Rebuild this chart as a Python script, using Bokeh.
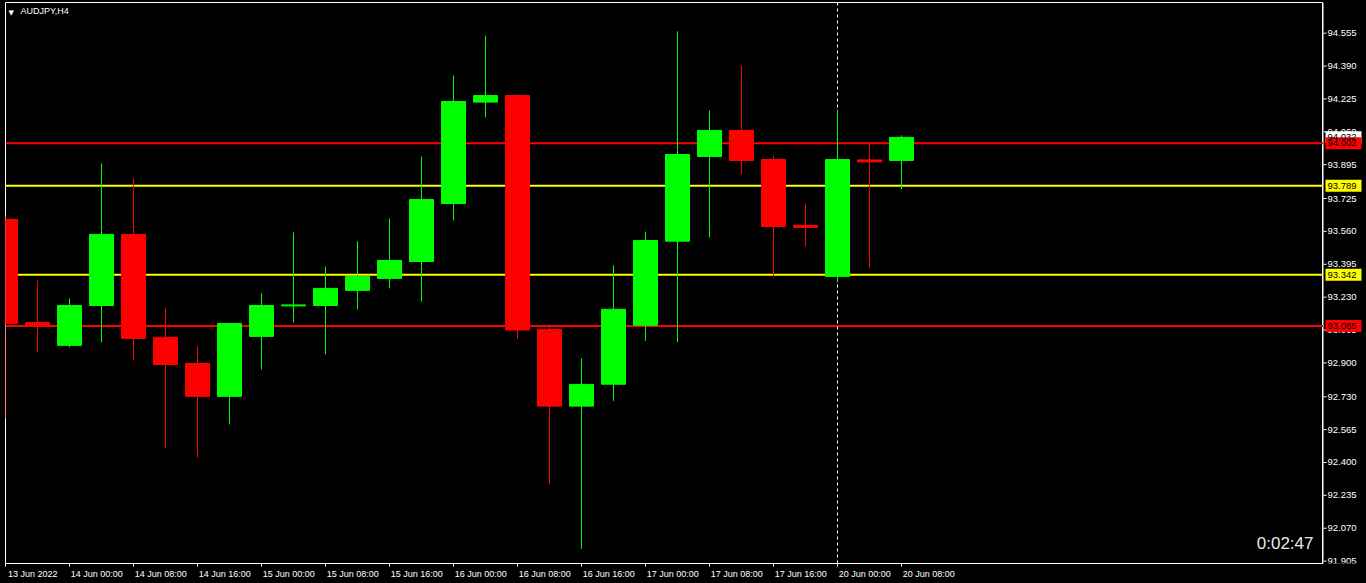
from bokeh.plotting import figure
from bokeh.layouts import row
from bokeh.models import (ColumnDataSource, Range1d, LinearAxis, FixedTicker,
                          Span, Label, GlobalInlineStyleSheet)
from bokeh.core.properties import value
from bokeh.embed import file_html
from bokeh.resources import INLINE

# ---------------- data ----------------
SYMBOL = "AUDJPY,H4"
TIMER = "0:02:47"

OPEN = [93.620, 93.103, 92.988, 93.188, 93.545, 93.028, 92.897, 92.732, 93.033, 93.186,
        93.188, 93.264, 93.324, 93.409, 93.700, 94.209, 94.242, 93.068, 92.683, 92.793,
        93.089, 93.511, 93.936, 94.067, 93.921, 93.590, 93.334, 93.919, 93.916]
HIGH = [93.640, 93.314, 93.224, 93.901, 93.826, 93.173, 92.983, 93.098, 93.249, 93.555,
        93.384, 93.510, 93.625, 93.936, 94.343, 94.542, 94.247, 93.079, 92.923, 93.390,
        93.559, 94.564, 94.167, 94.393, 93.941, 93.700, 94.172, 94.001, 94.042]
LOW = [92.621, 92.953, 92.978, 93.003, 92.912, 92.471, 92.426, 92.591, 92.867, 93.103,
       92.943, 93.168, 93.274, 93.208, 93.615, 94.133, 93.020, 92.292, 91.966, 92.709,
       93.010, 93.004, 93.530, 93.846, 93.334, 93.485, 93.304, 93.379, 93.771]
CLOSE = [93.098, 93.088, 93.188, 93.545, 93.023, 92.892, 92.732, 93.098, 93.188, 93.191,
         93.274, 93.334, 93.414, 93.720, 94.212, 94.242, 93.065, 92.683, 92.792, 93.169,
         93.514, 93.946, 94.067, 93.916, 93.585, 93.580, 93.921, 93.909, 94.032]
BAR = list(range(len(OPEN)))

X_TICK_BARS = [0, 2, 4, 6, 8, 10, 12, 14, 16, 18, 20, 22, 24, 26, 28]
X_TICK_LABELS = ["13 Jun 2022", "14 Jun 00:00", "14 Jun 08:00", "14 Jun 16:00",
                 "15 Jun 00:00", "15 Jun 08:00", "15 Jun 16:00", "16 Jun 00:00",
                 "16 Jun 08:00", "16 Jun 16:00", "17 Jun 00:00", "17 Jun 08:00",
                 "17 Jun 16:00", "20 Jun 00:00", "20 Jun 08:00"]
Y_TICKS = [94.555, 94.390, 94.225, 94.060, 93.895, 93.725, 93.560, 93.395, 93.230,
           93.065, 92.900, 92.730, 92.565, 92.400, 92.235, 92.070, 91.905]

RED_LEVELS = [94.002, 93.085]
YELLOW_LEVELS = [93.789, 93.342]
SEPARATOR_LABEL = "20 Jun 00:00"
BID = CLOSE[-1]

# ---------------- style ----------------
BULL = "#00ff00"
BEAR = "#ff0000"
YELLOW = "#ffff00"
FONT = "Liberation Sans"
BAR_PX = 32
MAIN_W, AXIS_W, H = 1323, 43, 583
LEFT_B, TOP_B, BOTTOM_B = 5, 2, 20
FRAME_W = MAIN_W - LEFT_B
X_START = 0.0
X_END = X_START + FRAME_W / BAR_PX
Y_START, Y_END = 91.893, 94.709
BODY_W = 0.75
LABEL_SHIFT = 0.85

yr = Range1d(Y_START, Y_END)

colors = [BULL if c >= o else BEAR for o, c in zip(OPEN, CLOSE)]
src = ColumnDataSource(dict(
    x=BAR, open=OPEN, high=HIGH, low=LOW, close=CLOSE,
    top=[max(o, c) for o, c in zip(OPEN, CLOSE)],
    bottom=[min(o, c) for o, c in zip(OPEN, CLOSE)],
    color=colors,
))

# ---------------- main chart ----------------
p = figure(width=MAIN_W, height=H, output_backend="svg", toolbar_location=None,
           x_range=Range1d(X_START, X_END), y_range=yr,
           x_axis_location=None, y_axis_location=None,
           min_border_left=LEFT_B, min_border_top=TOP_B, min_border_right=0,
           min_border_bottom=BOTTOM_B)
p.background_fill_color = "black"
p.border_fill_color = "black"
p.outline_line_color = "white"
p.outline_line_width = 1
for g in p.grid:
    g.visible = False
p.stylesheets = [GlobalInlineStyleSheet(css="body{background:#000000;}")]

label_pos = [b + LABEL_SHIFT for b in X_TICK_BARS]
xaxis = LinearAxis(
    ticker=FixedTicker(ticks=label_pos, minor_ticks=X_TICK_BARS),
    major_label_overrides={lp: lab for lp, lab in zip(label_pos, X_TICK_LABELS)},
    major_tick_out=0, major_tick_in=0, minor_tick_out=3, minor_tick_in=0,
    minor_tick_line_color="white", axis_line_color="white",
    major_label_standoff=2, major_label_text_color="white",
    major_label_text_font=FONT, major_label_text_font_size="9px")
p.add_layout(xaxis, "below")

for lvl in RED_LEVELS:
    p.add_layout(Span(location=lvl, dimension="width", line_color=BEAR,
                      line_width=2, level="underlay"))
for lvl in YELLOW_LEVELS:
    p.add_layout(Span(location=lvl, dimension="width", line_color=YELLOW,
                      line_width=2, level="underlay"))
sep_bar = X_TICK_BARS[X_TICK_LABELS.index(SEPARATOR_LABEL)]
p.add_layout(Span(location=sep_bar, dimension="height", line_color="white",
                  line_width=1, line_dash="3 3", level="underlay"))

p.segment(x0="x", y0="low", x1="x", y1="high", line_color="color",
          line_width=1, source=src)
p.vbar(x="x", top="top", bottom="bottom", width=BODY_W, fill_color="color",
       line_color="color", line_width=1, source=src)

p.add_layout(Label(x=3, x_units="screen", y=Y_END, y_units="data", y_offset=-6,
                   text="\u25bc", text_font="DejaVu Sans",
                   text_font_size="7px", text_color="white",
                   text_baseline="top", text_align="left"))
p.add_layout(Label(x=15, x_units="screen", y=Y_END, y_units="data", y_offset=-3,
                   text=SYMBOL, text_font=FONT, text_font_size="9px",
                   text_color="white", text_baseline="top", text_align="left"))
p.add_layout(Label(x=FRAME_W - 10, x_units="screen", y=Y_START, y_units="data",
                   y_offset=11, text=TIMER, text_font=FONT,
                   text_font_size="17px", text_color="#e8e8e8",
                   text_baseline="bottom", text_align="right"))

# ---------------- price scale ----------------
q = figure(width=AXIS_W, height=H, output_backend="svg", toolbar_location=None,
           x_range=Range1d(0, AXIS_W), y_range=yr,
           x_axis_location=None, y_axis_location=None,
           min_border_left=0, min_border_top=TOP_B, min_border_right=0,
           min_border_bottom=BOTTOM_B)
q.background_fill_color = "black"
q.border_fill_color = "black"
q.outline_line_color = None
for g in q.grid:
    g.visible = False

q.add_layout(Span(location=0, dimension="height", line_color="white", line_width=1))
tick_src = ColumnDataSource(dict(y=Y_TICKS, text=[f"{t:.3f}" for t in Y_TICKS]))
q.segment(x0=0, y0="y", x1=3, y1="y", line_color="white", line_width=1,
          source=tick_src)
q.text(x=4, y="y", text="text", text_font=value(FONT), text_font_size="9.5px",
       text_color="white", text_baseline="middle", text_align="left",
       source=tick_src)

tag_prices = [BID] + RED_LEVELS + YELLOW_LEVELS
tag_colors = ["white"] + [BEAR] * len(RED_LEVELS) + [YELLOW] * len(YELLOW_LEVELS)
tag_src = ColumnDataSource(dict(y=tag_prices, color=tag_colors,
                                text=[f"{v:.3f}" for v in tag_prices]))
q.rect(x=20, y="y", width=36, height=12, height_units="screen",
       fill_color="color", line_color=None, source=tag_src)
q.text(x=4, y="y", text="text", text_font=value(FONT), text_font_size="9.5px",
       text_color="black", text_baseline="middle", text_align="left",
       source=tag_src)

layout = row(p, q)
open("out.html", "w").write(file_html(layout, INLINE))
